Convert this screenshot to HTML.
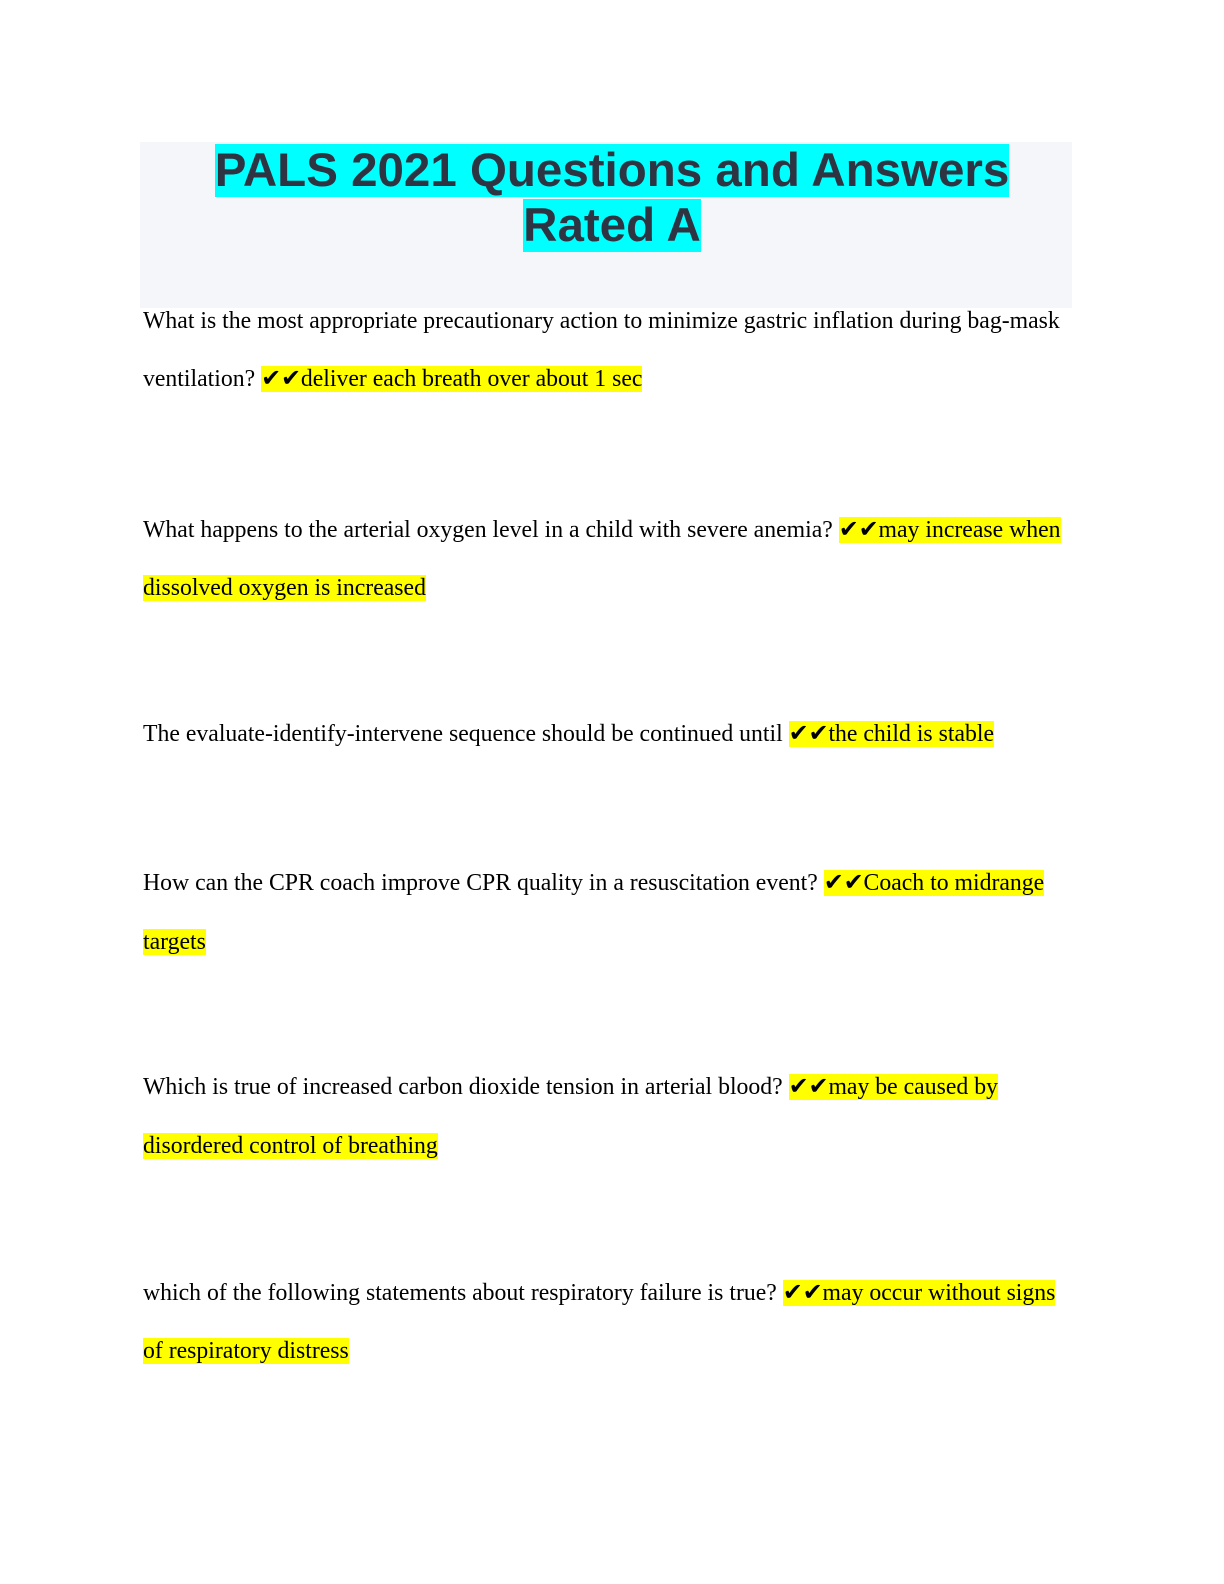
<!DOCTYPE html>
<html><head><style>
body{margin:0;width:1224px;height:1584px;background:#fff;position:relative;overflow:hidden}
.box{position:absolute;left:140px;top:142px;width:932px;height:166px;background:#f5f6fa}
.t{position:absolute;left:0;width:1224px;text-align:center;font:bold 47.5px/55px "Liberation Sans",sans-serif;color:#2e3442}
.t span{background:#00ffff}
.l{position:absolute;left:143px;font:23.75px/30px "Liberation Serif",serif;color:#000;white-space:nowrap}
.h{background:#ffff00}
</style></head><body>
<div class="box"></div>
<div class="t" style="top:143px"><span>PALS 2021 Questions and Answers</span></div>
<div class="t" style="top:198px"><span>Rated A</span></div>
<div class="l" style="top:306px">What is the most appropriate precautionary action to minimize gastric inflation during bag-mask</div>
<div class="l" style="top:364px">ventilation? <span class="h">✔✔deliver each breath over about 1 sec</span></div>
<div class="l" style="top:515px">What happens to the arterial oxygen level in a child with severe anemia? <span class="h">✔✔may increase when</span></div>
<div class="l" style="top:573px"><span class="h">dissolved oxygen is increased</span></div>
<div class="l" style="top:719px">The evaluate-identify-intervene sequence should be continued until <span class="h">✔✔the child is stable</span></div>
<div class="l" style="top:868px">How can the CPR coach improve CPR quality in a resuscitation event? <span class="h">✔✔Coach to midrange</span></div>
<div class="l" style="top:927px"><span class="h">targets</span></div>
<div class="l" style="top:1072px">Which is true of increased carbon dioxide tension in arterial blood? <span class="h">✔✔may be caused by</span></div>
<div class="l" style="top:1131px"><span class="h">disordered control of breathing</span></div>
<div class="l" style="top:1278px">which of the following statements about respiratory failure is true? <span class="h">✔✔may occur without signs</span></div>
<div class="l" style="top:1336px"><span class="h">of respiratory distress</span></div>
</body></html>
